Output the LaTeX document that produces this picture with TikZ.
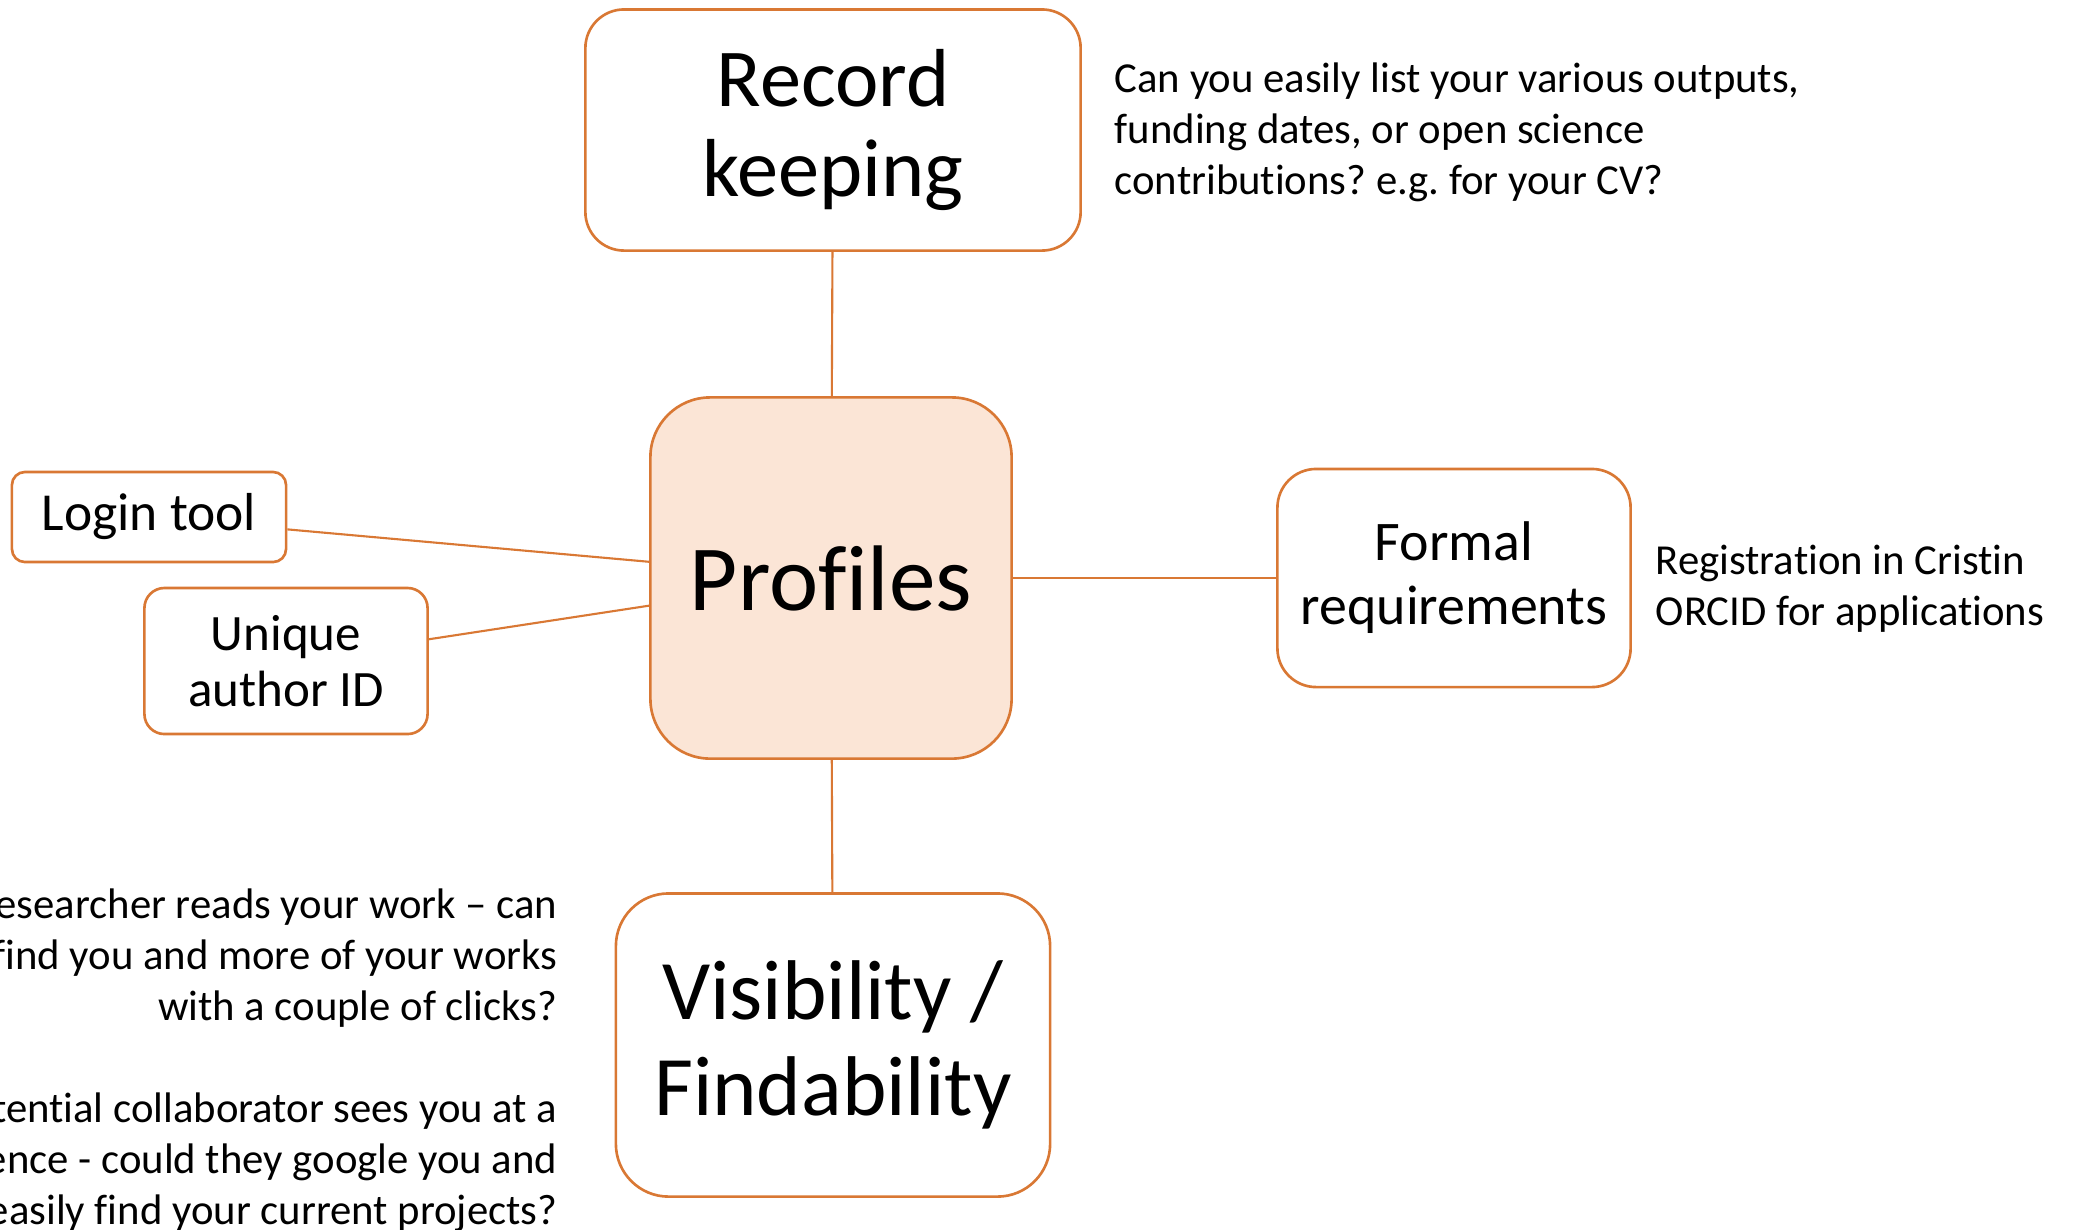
\documentclass[tikz,border=0pt]{standalone}
\usepackage{fontspec}
\setmainfont{Carlito}[Ligatures=NoCommon]
\frenchspacing
\definecolor{boxline}{HTML}{D97834}
\definecolor{boxfill}{HTML}{FBE5D6}
\begin{document}
\begin{tikzpicture}[x=0.01cm,y=-0.01cm,
    box/.style={draw=boxline,line width=0.75pt,rounded corners=#1,fill=white,align=center,inner sep=0pt},
    note/.style={font=\fontsize{12.15}{14.5}\selectfont,inner sep=0pt}]
      \useasboundingbox (0,0) rectangle (2073,1229);
      \draw
        (833,130) node[box=11pt,minimum width=4.95cm,minimum height=2.41cm,font=\fontsize{23.4}{25.8}\selectfont] (record){Record\\keeping}
        (831,578) node[box=17pt,fill=boxfill,minimum width=3.61cm,minimum height=3.61cm,font=\fontsize{26.5}{30}\selectfont] (profiles){Profiles}
        (1454,578) node[box=11pt,minimum width=3.53cm,minimum height=2.18cm,font=\fontsize{15.9}{18.2}\selectfont] (formal){Formal\\requirements}
        (149,517) node[box=3.7pt,minimum width=2.74cm,minimum height=0.9cm,font=\fontsize{15.2}{17}\selectfont] (login){Login tool}
        (286,661) node[box=5.7pt,minimum width=2.83cm,minimum height=1.46cm,font=\fontsize{14.5}{16}\selectfont] (authorid){Unique\\author ID}
        (833,1045) node[box=15pt,minimum width=4.34cm,minimum height=3.03cm,font=\fontsize{24.1}{27.5}\selectfont] (visibility){Visibility /\\Findability};
      \begin{scope}[draw=boxline,line width=0.6pt]
        \draw (record) to (profiles);
        \draw (profiles) to (visibility);
        \draw (profiles) to (formal);
        \draw (login) to (profiles);
        \draw (authorid) to (profiles);
      \end{scope}
      % side notes
      \node[note,anchor=west,align=left] (recordnote) at (1114,132)
        {Can you easily list your various outputs,\\funding dates, or open science\\contributions? e.g. for your CV?};
      \node[note,anchor=west,align=left] (formalnote) at (1655,589)
        {Registration in Cristin\\ORCID for applications};
      \node[note,anchor=east,align=right] (readernote) at (558,958)
        {esearcher reads your work – can\\find you and more of your works\\with a couple of clicks?};
      \node[note,anchor=east,align=right] (collabnote) at (558,1162)
        {tential collaborator sees you at a\\ence - could they google you and\\easily find your current projects?};
    \end{tikzpicture}
\end{document}
